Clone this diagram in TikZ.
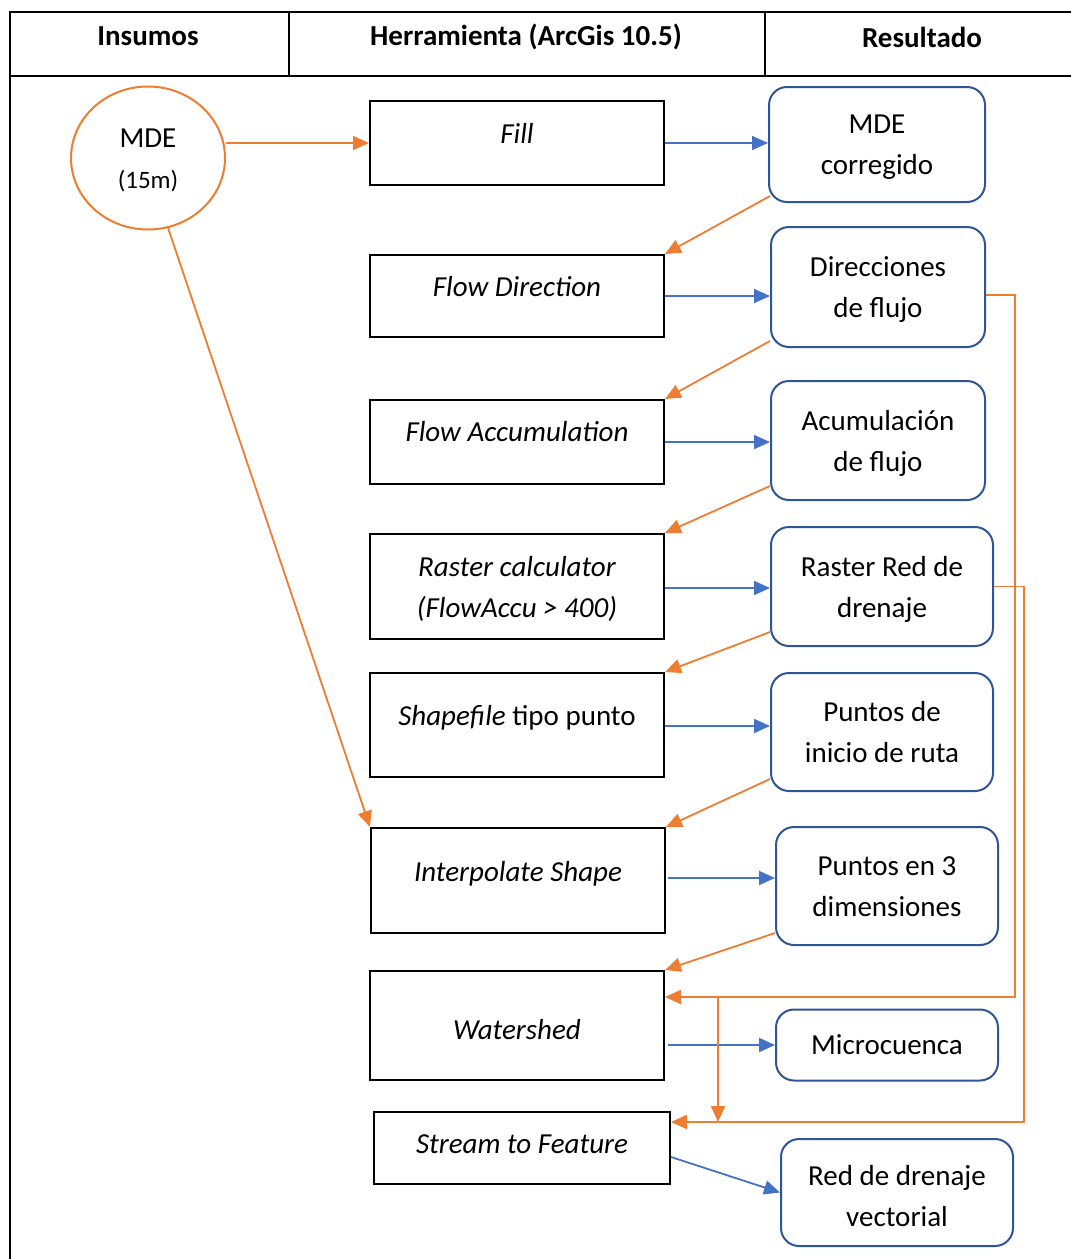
\documentclass[tikz,border=0pt]{standalone}
\usepackage{fontspec}
\setmainfont{Carlito}
\usetikzlibrary{arrows.meta,shapes.geometric,calc}
\definecolor{orng}{HTML}{ED7D31}
\definecolor{arrblue}{HTML}{4472C4}
\definecolor{boxblue}{HTML}{2F5597}
\newcommand\bodyfont{\fontsize{29}{41}\selectfont}
\begin{document}
\begin{tikzpicture}[x=1pt,y=-1pt,
  tool/.style={draw=black,line width=2pt,minimum width=294pt,inner sep=0pt},
  tooltxt/.style={font=\bodyfont\itshape,align=center,inner sep=0pt},
  res/.style={draw=boxblue,line width=2pt,rounded corners=18pt,inner sep=0pt},
  restxt/.style={font=\bodyfont,align=center,inner sep=0pt},
  hdr/.style={font=\bodyfont\bfseries,inner sep=0pt},
  oarr/.style={draw=orng,line width=1.8pt,-{Triangle[length=16pt,width=14pt]}},
  barr/.style={draw=arrblue,line width=1.8pt,-{Triangle[length=16pt,width=14pt]}}]
\useasboundingbox (0,0) rectangle (1071,1259);
% table frame
\draw[line width=2pt] (1071,12) -- (10,12) -- (10,1259);
\draw[line width=2pt] (10,76) -- (1071,76);
\draw[line width=2pt] (289,12) -- (289,76);
\draw[line width=2pt] (765,12) -- (765,76);
\node[hdr] (h1) at (148,36) {Insumos};
\node[hdr] (h2) at (526,37) {Herramienta (ArcGis 10.5)};
\node[hdr] (h3) at (922,37) {Resultado};
% input
\node[ellipse,draw=orng,line width=2pt,minimum width=154pt,minimum height=143pt,inner sep=0pt] (mde) at (148,158) {};
\node[restxt] (tmde) at (148,160.5) {MDE\\{\fontsize{25}{30}\selectfont (15m)}};
% tools
\node[tool,minimum height=84pt] (fill) at (517,143) {};
\node[tooltxt] (tfill) at (517,133) {Fill};
\node[tool,minimum height=82pt] (fdir) at (517,296) {};
\node[tooltxt] (tfdir) at (517,287) {Flow Direction};
\node[tool,minimum height=84pt] (facc) at (517,442) {};
\node[tooltxt] (tfacc) at (517,432) {Flow Accumulation};
\node[tool,minimum height=105pt] (rcalc) at (517,586.5) {};
\node[tooltxt] (trcalc) at (517,589) {Raster calculator\\(FlowAccu > 400)};
\node[tool,minimum height=104pt] (shp) at (517,725) {};
\node[tooltxt] (tshp) at (517,718) {Shapefile\upshape{} tipo punto};
\node[tool,minimum height=105pt] (interp) at (518,880.5) {};
\node[tooltxt] (tinterp) at (518,874) {Interpolate Shape};
\node[tool,minimum height=109pt] (ws) at (517,1025.5) {};
\node[tooltxt] (tws) at (517,1030) {Watershed};
\node[tool,minimum width=296pt,minimum height=72pt] (stf) at (522,1148) {};
\node[tooltxt] (tstf) at (522,1144) {Stream to Feature};
% results
\node[res,minimum width=216pt,minimum height=115pt] (mdec) at (877,144.5) {};
\node[restxt] (tmdec) at (877,147.5) {MDE\\corregido};
\node[res,minimum width=214pt,minimum height=120pt] (dirf) at (878,287) {};
\node[restxt] (tdirf) at (878,290) {Direcciones\\de flujo};
\node[res,minimum width=214pt,minimum height=119pt] (acum) at (878,440.5) {};
\node[restxt] (tacum) at (878,443.5) {Acumulación\\de flujo};
\node[res,minimum width=222pt,minimum height=119pt] (rred) at (882,586.5) {};
\node[restxt] (trred) at (882,589.5) {Raster Red de\\drenaje};
\node[res,minimum width=222pt,minimum height=118pt] (pini) at (882,732) {};
\node[restxt] (tpini) at (882,732) {Puntos de\\inicio de ruta};
\node[res,minimum width=222pt,minimum height=118pt] (p3d) at (887,886) {};
\node[restxt] (tp3d) at (887,887) {Puntos en 3\\dimensiones};
\node[res,minimum width=222pt,minimum height=71pt] (micro) at (887,1045) {};
\node[restxt] (tmicro) at (887,1045) {Microcuenca};
\node[res,minimum width=232pt,minimum height=107pt] (redv) at (897,1192.5) {};
\node[restxt] (tredv) at (897,1196.5) {Red de drenaje\\vectorial};
% orange input arrows
\draw[oarr] (mde.east |- fill.west) -- (fill.west);
\draw[oarr] (mde.-74) -- (interp.north west);
% blue arrows
\draw[barr] (fill.east) -- (fill.east -| mdec.west);
\draw[barr] (fdir.east) -- (fdir.east -| dirf.west);
\draw[barr] (facc.east) -- (facc.east -| acum.west);
\draw[barr] ([yshift=-1.5pt]rcalc.east) -- ([yshift=-1.5pt]rcalc.east -| rred.west);
\draw[barr] ([yshift=-1pt]shp.east) -- ([yshift=-1pt]shp.east -| pini.west);
\draw[barr] ([xshift=2pt,yshift=2.5pt]interp.east) -- ([yshift=2.5pt]interp.east -| p3d.west);
\draw[barr] ([xshift=3pt]micro.west -| ws.east) -- (micro.west);
\draw[barr] ([yshift=-9pt]stf.east) -- (redv.west);
% orange diagonals
\draw[oarr] ([xshift=2pt,yshift=7pt]mdec.south west) -- (fdir.north east);
\draw[oarr] ([yshift=7pt]dirf.south west) -- (facc.north east);
\draw[oarr] ([yshift=15pt]acum.south west) -- (rcalc.north east);
\draw[oarr] ([yshift=15pt]rred.south west) -- (shp.north east);
\draw[oarr] ([yshift=13pt]pini.south west) -- (interp.north east);
\draw[oarr] ([yshift=13pt]p3d.south west) -- (ws.north east);
% orange elbows
\coordinate (c1) at (1015,997);
\coordinate (c2) at (1024,1122);
\coordinate (c3) at (718,997);
\draw[oarr] ([yshift=-8pt]dirf.east) -| (c1) -- (c1 -| ws.east);
\draw[oarr] (rred.east) -| (c2) -- (c2 -| stf.east);
\draw[oarr] (c3) -- (c3 |- c2);
\end{tikzpicture}
\end{document}
